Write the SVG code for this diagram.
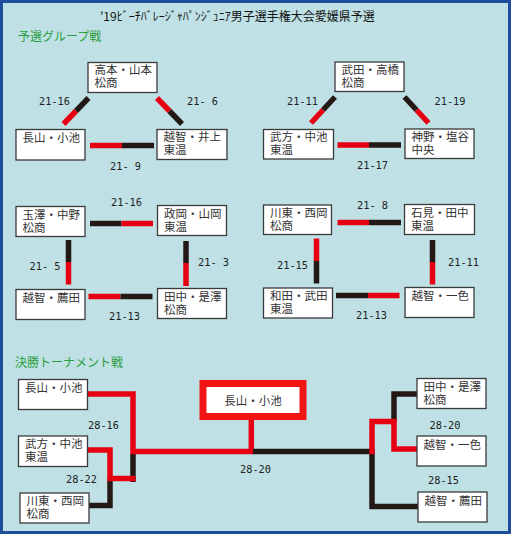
<svg xmlns="http://www.w3.org/2000/svg" width="513" height="536" viewBox="0 0 513 536">
<style>
.box rect{fill:#fff;stroke:#3a3a3a;stroke-width:1.3}
.box text{font-family:"Noto Sans CJK JP","Noto Sans",sans-serif;font-size:11.5px;fill:#333}
.lbl{font-family:"DejaVu Sans Mono","Liberation Mono",monospace;font-size:10.3px;fill:#222}
.r{stroke:#e60012;stroke-width:5.5;fill:none}
.k{stroke:#231815;stroke-width:5.5;fill:none}
.hd{font-family:"Noto Sans CJK JP","Noto Sans",sans-serif;font-size:12px;fill:#2a9d3c}
</style>
<rect x="1.5" y="1.5" width="508" height="531" fill="#bfe1e5" stroke="#1e4d9b" stroke-width="3"/>
<text x="100" y="20.5" font-family="'Noto Sans CJK JP','Noto Sans',sans-serif" font-size="12" fill="#111">’19ﾋﾞｰﾁﾊﾞﾚｰｼﾞｬﾊﾟﾝｼﾞｭﾆｱ男子選手権大会愛媛県予選</text>
<text class="hd" x="18" y="41">予選グループ戦</text>
<text class="hd" x="15" y="367">決勝トーナメント戦</text>

<g id="connectors">
<line class="k" x1="88.5" y1="98" x2="76" y2="111"/><line class="r" x1="76" y1="111" x2="63.5" y2="124"/>
<line class="r" x1="157" y1="98" x2="169.5" y2="111"/><line class="k" x1="169.5" y1="111" x2="182" y2="124"/>
<line class="r" x1="90" y1="145.5" x2="122" y2="145.5"/><line class="k" x1="122" y1="145.5" x2="154" y2="145.5"/>
<line class="k" x1="335" y1="97" x2="323" y2="110"/><line class="r" x1="323" y1="110" x2="311" y2="123"/>
<line class="k" x1="404.5" y1="97" x2="416.5" y2="110"/><line class="r" x1="416.5" y1="110" x2="428.5" y2="123"/>
<line class="r" x1="337.5" y1="145" x2="369" y2="145"/><line class="k" x1="369" y1="145" x2="401" y2="145"/>
<line class="k" x1="90" y1="223.5" x2="121.5" y2="223.5"/><line class="r" x1="121.5" y1="223.5" x2="153" y2="223.5"/>
<line class="k" x1="68.5" y1="240" x2="68.5" y2="262"/><line class="r" x1="68.5" y1="262" x2="68.5" y2="284.5"/>
<line class="k" x1="186" y1="241" x2="186" y2="263"/><line class="r" x1="186" y1="263" x2="186" y2="286"/>
<line class="r" x1="88.5" y1="296.5" x2="120.5" y2="296.5"/><line class="k" x1="120.5" y1="296.5" x2="152.5" y2="296.5"/>
<line class="r" x1="337.5" y1="222.5" x2="369" y2="222.5"/><line class="k" x1="369" y1="222.5" x2="401" y2="222.5"/>
<line class="r" x1="316.5" y1="238.5" x2="316.5" y2="261"/><line class="k" x1="316.5" y1="261" x2="316.5" y2="283.5"/>
<line class="k" x1="432.5" y1="240" x2="432.5" y2="262"/><line class="r" x1="432.5" y1="262" x2="432.5" y2="284.5"/>
<line class="k" x1="336" y1="295.5" x2="368" y2="295.5"/><line class="r" x1="368" y1="295.5" x2="399.5" y2="295.5"/>
<line class="k" x1="133" y1="454" x2="133" y2="482"/>
<polyline class="k" points="89,505.5 110,505.5 110,478.5"/>
<polyline class="r" points="87.5,450 110,450 110,478.5 135.5,478.5"/>
<polyline class="r" points="87.5,394 133,394 133,451.5 253,451.5"/>
<line class="r" x1="251.3" y1="418" x2="251.3" y2="451.5"/>
<line class="k" x1="253" y1="451.5" x2="372" y2="451.5"/>
<polyline class="k" points="369.25,451.5 372,451.5 372,506.5 418,506.5"/>
<polyline class="k" points="418,394 394,394 394,421.5"/>
<polyline class="r" points="372,454.25 372,421.5 394,421.5 394,449 418,449"/>
</g>

<g id="g1-takamoto" class="box"><rect x="88" y="62.5" width="69" height="30"/><text><tspan x="94.5" y="74">高本・山本</tspan><tspan x="94.5" dy="13">松商</tspan></text></g>
<g id="g1-nagayama" class="box"><rect x="16" y="129.5" width="69" height="30.5"/><text x="22.5" y="142">長山・小池</text></g>
<g id="g1-ochi-inoue" class="box"><rect x="157" y="129.5" width="70" height="30"/><text><tspan x="163.5" y="141">越智・井上</tspan><tspan x="163.5" dy="13">東温</tspan></text></g>

<g id="g2-takeda" class="box"><rect x="335" y="62" width="69" height="29.5"/><text><tspan x="341.5" y="73.5">武田・高橋</tspan><tspan x="341.5" dy="13">松商</tspan></text></g>
<g id="g2-takekata" class="box"><rect x="263.5" y="129.5" width="70" height="29.5"/><text><tspan x="270" y="141">武方・中池</tspan><tspan x="270" dy="13">東温</tspan></text></g>
<g id="g2-kamino" class="box"><rect x="405" y="129" width="69" height="29.5"/><text><tspan x="411.5" y="141">神野・塩谷</tspan><tspan x="411.5" dy="13">中央</tspan></text></g>

<g id="g3-tamazawa" class="box"><rect x="16" y="206.5" width="69" height="30"/><text><tspan x="22.5" y="218.5">玉澤・中野</tspan><tspan x="22.5" dy="13">松商</tspan></text></g>
<g id="g3-masaoka" class="box"><rect x="157.5" y="205.5" width="69" height="30"/><text><tspan x="164" y="217.5">政岡・山岡</tspan><tspan x="164" dy="13">東温</tspan></text></g>
<g id="g3-ochi-komoda" class="box"><rect x="16" y="289.5" width="69" height="30"/><text x="22.5" y="302">越智・薦田</text></g>
<g id="g3-tanaka" class="box"><rect x="157.5" y="288.5" width="69" height="30"/><text><tspan x="164" y="300.5">田中・是澤</tspan><tspan x="164" dy="13">松商</tspan></text></g>

<g id="g4-kawahigashi" class="box"><rect x="263.5" y="205" width="68" height="29.5"/><text><tspan x="270" y="217">川東・西岡</tspan><tspan x="270" dy="13">松商</tspan></text></g>
<g id="g4-ishimi" class="box"><rect x="404.5" y="204.5" width="70" height="30"/><text><tspan x="411" y="216.5">石見・田中</tspan><tspan x="411" dy="13">東温</tspan></text></g>
<g id="g4-wada" class="box"><rect x="263.5" y="288" width="69" height="30"/><text><tspan x="270" y="300">和田・武田</tspan><tspan x="270" dy="13">東温</tspan></text></g>
<g id="g4-ochi-isshiki" class="box"><rect x="405" y="287.5" width="69" height="30"/><text x="411.5" y="300">越智・一色</text></g>

<g id="t-nagayama" class="box"><rect x="18.5" y="379.5" width="69" height="30"/><text x="25" y="392">長山・小池</text></g>
<g id="t-takekata" class="box"><rect x="18.5" y="436" width="69" height="30.5"/><text><tspan x="25" y="448">武方・中池</tspan><tspan x="25" dy="13">東温</tspan></text></g>
<g id="t-kawahigashi" class="box"><rect x="20" y="493" width="69" height="30"/><text><tspan x="26.5" y="505">川東・西岡</tspan><tspan x="26.5" dy="13">松商</tspan></text></g>
<g id="t-tanaka" class="box"><rect x="417" y="378.5" width="69" height="30"/><text><tspan x="423.5" y="390.5">田中・是澤</tspan><tspan x="423.5" dy="13">松商</tspan></text></g>
<g id="t-ochi-isshiki" class="box"><rect x="417" y="436" width="69" height="30"/><text x="423.5" y="448.5">越智・一色</text></g>
<g id="t-ochi-komoda" class="box"><rect x="418" y="492" width="69" height="30"/><text x="424.5" y="504.5">越智・薦田</text></g>

<g id="champion" class="box"><rect x="203" y="383.5" width="100" height="33" style="stroke:#f01414;stroke-width:7"/><text x="253" y="404.5" text-anchor="middle">長山・小池</text></g>

<g id="labels">
<text class="lbl" x="39" y="105">21-16</text>
<text class="lbl" x="187" y="105" xml:space="preserve">21- 6</text>
<text class="lbl" x="110" y="169.5" xml:space="preserve">21- 9</text>
<text class="lbl" x="287" y="105">21-11</text>
<text class="lbl" x="434.5" y="105">21-19</text>
<text class="lbl" x="357" y="168.5">21-17</text>
<text class="lbl" x="111" y="206">21-16</text>
<text class="lbl" x="29.5" y="269.5" xml:space="preserve">21- 5</text>
<text class="lbl" x="198" y="266" xml:space="preserve">21- 3</text>
<text class="lbl" x="109" y="319.5">21-13</text>
<text class="lbl" x="357" y="208.5" xml:space="preserve">21- 8</text>
<text class="lbl" x="277" y="268.5">21-15</text>
<text class="lbl" x="448" y="266">21-11</text>
<text class="lbl" x="356" y="318.5">21-13</text>
<text class="lbl" x="88" y="428.5">28-16</text>
<text class="lbl" x="66" y="482.5">28-22</text>
<text class="lbl" x="240" y="472.5">28-20</text>
<text class="lbl" x="429.5" y="428.5">28-20</text>
<text class="lbl" x="428" y="484">28-15</text>
</g>
</svg>
